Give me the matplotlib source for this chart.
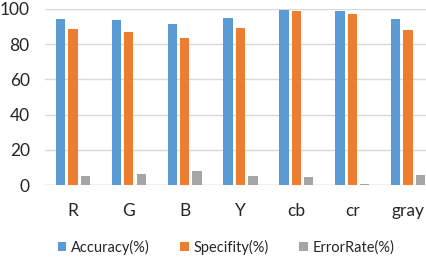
import numpy as np
import matplotlib.pyplot as plt

categories = ['R', 'G', 'B', 'Y', 'cb', 'cr', 'gray']
accuracy = [94.4, 93.5, 91.5, 94.6, 99.6, 98.7, 94.0]
specifity = [88.5, 86.8, 83.4, 89.0, 98.9, 97.0, 88.1]
error_rate = [5.4, 6.3, 8.1, 5.2, 4.5, 0.9, 5.7]

plt.rcParams['font.family'] = ['Lato', 'DejaVu Sans']

fig = plt.figure(figsize=(4.26, 2.59), dpi=100)
ax = fig.add_axes([45 / 426, 0.2846, 1 - 45 / 426, 0.966 - 0.2846])

x = np.arange(len(categories))
w = 0.167
step = 0.222
ax.bar(x - step, accuracy, w, color='#5B9BD5', label='Accuracy(%)', zorder=3)
ax.bar(x, specifity, w, color='#ED7D31', label='Specifity(%)', zorder=3)
ax.bar(x + step, error_rate, w, color='#A5A5A5', label='ErrorRate(%)', zorder=3)

ax.set_ylim(0, 100)
ax.set_xlim(-0.5, 6.32)
ax.set_yticks(range(0, 101, 20))
ax.set_xticks(x)
ax.set_xticklabels(categories)
ax.grid(axis='y', color='#D9D9D9', linewidth=1, zorder=0)
ax.axhline(0, color='#D9D9D9', linewidth=1, zorder=2)
for s in ax.spines.values():
    s.set_visible(False)
ax.tick_params(axis='both', length=0, labelsize=12.5, colors='#262626')
ax.tick_params(axis='y', pad=11)
ax.tick_params(axis='x', pad=12.5)

fig.legend(loc='lower center', bbox_to_anchor=(0.53, -0.035), ncol=3, frameon=False,
           fontsize=10.5, handlelength=0.6, handleheight=0.6, handletextpad=0.3,
           columnspacing=2.1, labelcolor='#262626')

fig.savefig('out.png', dpi=100)
